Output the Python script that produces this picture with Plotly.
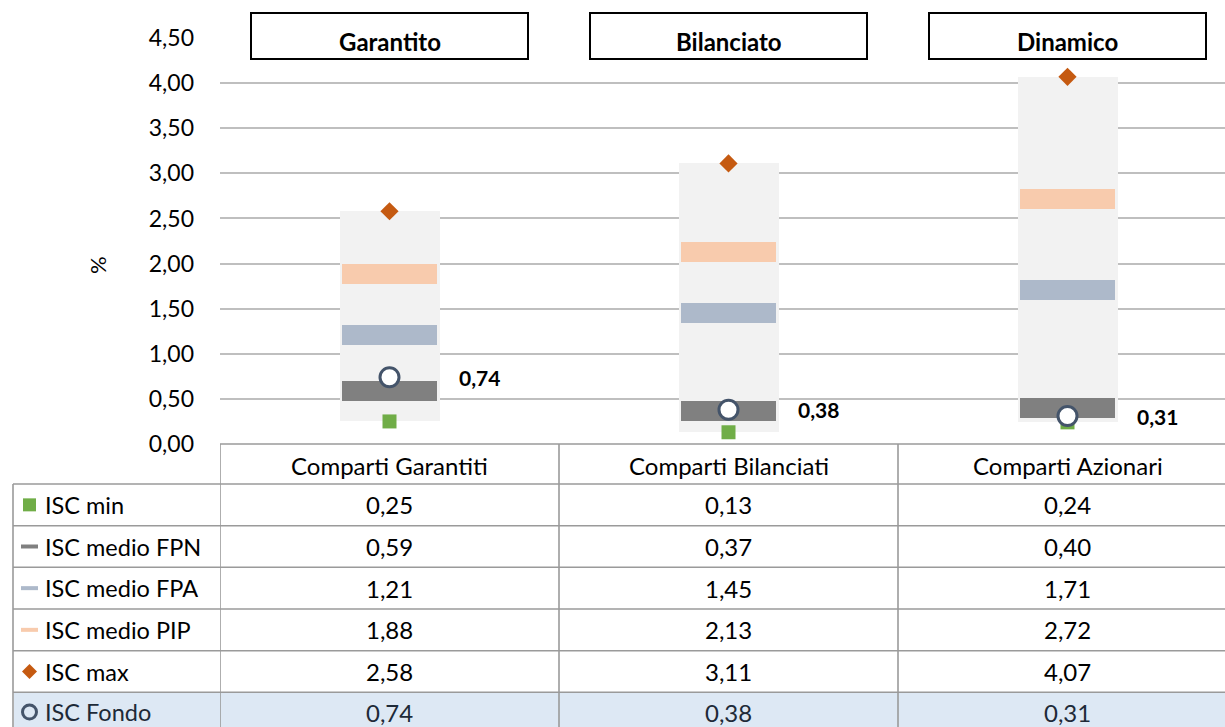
import plotly.graph_objects as go

# ---------------- data ----------------
categories = ["Comparti Garantiti", "Comparti Bilanciati", "Comparti Azionari"]
box_titles = ["Garantito", "Bilanciato", "Dinamico"]
row_labels = ["ISC min", "ISC medio FPN", "ISC medio FPA", "ISC medio PIP", "ISC max", "ISC Fondo"]
isc_min = [0.25, 0.13, 0.24]
isc_fpn = [0.59, 0.37, 0.40]
isc_fpa = [1.21, 1.45, 1.71]
isc_pip = [1.88, 2.13, 2.72]
isc_max = [2.58, 3.11, 4.07]
isc_fondo = [0.74, 0.38, 0.31]
y_ticks = [0, 0.5, 1.0, 1.5, 2.0, 2.5, 3.0, 3.5, 4.0, 4.5]

# ---------------- styling / geometry ----------------
W, H = 1225, 727
PL, PR, PT, PB = 220, 1225, 38, 444
CAT_PX = 339.0
FONT = "Lato"
C_MIN = "#70AD47"
C_FPN = "#808080"
C_FPA = "#ADB9CA"
C_PIP = "#F8CBAD"
C_MAX = "#C55A11"
C_FONDO = "#44546A"
C_RANGE = "#F2F2F2"
C_GRID = "#BFBFBF"
C_TBL = "#9A9A9A"
C_LASTROW = "#DDE8F4"
TXT = "#000000"
TXT_LAST = "#1E2A38"

def fx(x):
    return (x - PL) / (PR - PL)

def fy(y):
    return (PB - y) / (PB - PT)

fmt = lambda v: f"{v:.2f}".replace(".", ",")

xs = list(range(len(categories)))
band_h = 0.22  # thickness of the mean bands (in axis units)

fig = go.Figure()

# range box (min..max)
fig.add_trace(go.Bar(
    x=xs, base=isc_min, y=[mx - mn for mx, mn in zip(isc_max, isc_min)],
    width=0.295, marker=dict(color=C_RANGE, line=dict(width=0)),
    hoverinfo="skip", showlegend=False))

# min markers
fig.add_trace(go.Scatter(
    x=xs, y=isc_min, mode="markers",
    marker=dict(symbol="square", size=14, color=C_MIN, line=dict(width=0)),
    showlegend=False, name="ISC min"))

# mean bands
for vals, col, nm in [(isc_fpn, C_FPN, "ISC medio FPN"),
                      (isc_fpa, C_FPA, "ISC medio FPA"),
                      (isc_pip, C_PIP, "ISC medio PIP")]:
    fig.add_trace(go.Bar(
        x=xs, base=[v - band_h / 2 for v in vals], y=[band_h] * len(vals),
        width=0.28, marker=dict(color=col, line=dict(width=0)),
        showlegend=False, name=nm))

# max markers
fig.add_trace(go.Scatter(
    x=xs, y=isc_max, mode="markers",
    marker=dict(symbol="diamond", size=14, color=C_MAX, line=dict(width=0)),
    showlegend=False, name="ISC max"))

# fondo markers
fig.add_trace(go.Scatter(
    x=xs, y=isc_fondo, mode="markers",
    marker=dict(symbol="circle", size=19, color="white",
                line=dict(width=3, color=C_FONDO)),
    showlegend=False, name="ISC Fondo"))

shapes = []
annotations = []

def ann(**kw):
    kw.setdefault("showarrow", False)
    kw.setdefault("xanchor", "center")
    kw.setdefault("yanchor", "middle")
    annotations.append(kw)

# fondo value labels
for i, v in enumerate(isc_fondo):
    ann(x=i, y=v, xref="x", yref="y", xshift=90, text=f"<b>{fmt(v)}</b>",
        font=dict(family=FONT, size=21, color=TXT))

# header boxes
half = 277 / CAT_PX / 2
for i, t in enumerate(box_titles):
    shapes.append(dict(type="rect", xref="x", yref="paper",
                       x0=i - half, x1=i + half, y0=fy(59), y1=fy(13),
                       line=dict(color="#000000", width=2), fillcolor="white",
                       layer="above"))
    ann(x=i, y=fy(41), xref="x", yref="paper", text=f"<b>{t}</b>",
        font=dict(family=FONT, size=24, color=TXT))

# ---------------- table ----------------
row_edges = [484, 525.7, 567.3, 609, 650.7, 692.3, 740]
row_centers = [(row_edges[k] + row_edges[k + 1]) / 2 for k in range(6)]
row_centers[-1] = 712

# last row fill
shapes.append(dict(type="rect", xref="paper", yref="paper",
                   x0=fx(14), x1=fx(1240), y0=fy(740), y1=fy(693),
                   line=dict(width=0), fillcolor=C_LASTROW, layer="below"))

tl = dict(color=C_TBL, width=1.6)
# horizontal lines
shapes.append(dict(type="line", xref="paper", yref="paper",
                   x0=fx(220), x1=fx(1240), y0=fy(444), y1=fy(444), line=tl))
for ye in row_edges[:-1]:
    shapes.append(dict(type="line", xref="paper", yref="paper",
                       x0=fx(13), x1=fx(1240), y0=fy(ye), y1=fy(ye), line=tl))
# vertical lines
shapes.append(dict(type="line", xref="paper", yref="paper",
                   x0=fx(13), x1=fx(13), y0=fy(484), y1=fy(740), line=tl))
for i in xs:
    shapes.append(dict(type="line", xref="x", yref="paper",
                       x0=i - 0.5, x1=i - 0.5, y0=fy(444), y1=fy(740), line=tl))

# header row
for i, c in enumerate(categories):
    ann(x=i, y=fy(465), xref="x", yref="paper", text=c,
        font=dict(family=FONT, size=24, color=TXT))

# value rows
table_rows = [isc_min, isc_fpn, isc_fpa, isc_pip, isc_max, isc_fondo]
for k, (lab, vals) in enumerate(zip(row_labels, table_rows)):
    col = TXT_LAST if k == 5 else TXT
    ann(x=fx(43), y=fy(row_centers[k]), xref="paper", yref="paper",
        text=lab, xanchor="left", font=dict(family=FONT, size=23.5, color=col))
    for i, v in enumerate(vals):
        ann(x=i, y=fy(row_centers[k]), xref="x", yref="paper", text=fmt(v),
            font=dict(family=FONT, size=24, color=col))

# legend glyphs
cx = 29.5
shapes.append(dict(type="rect", xref="paper", yref="paper",
                   x0=fx(cx - 6.5), x1=fx(cx + 6.5),
                   y0=fy(row_centers[0] + 6.5), y1=fy(row_centers[0] - 6.5),
                   line=dict(width=0), fillcolor=C_MIN))
for k, col in [(1, C_FPN), (2, C_FPA), (3, C_PIP)]:
    shapes.append(dict(type="rect", xref="paper", yref="paper",
                       x0=fx(21), x1=fx(38),
                       y0=fy(row_centers[k] + 2), y1=fy(row_centers[k] - 2),
                       line=dict(width=0), fillcolor=col))
yc = row_centers[4]
shapes.append(dict(type="path", xref="paper", yref="paper",
                   path=f"M {fx(cx-7.5)},{fy(yc)} L {fx(cx)},{fy(yc-7.5)} "
                        f"L {fx(cx+7.5)},{fy(yc)} L {fx(cx)},{fy(yc+7.5)} Z",
                   line=dict(width=0), fillcolor=C_MAX))
yc = row_centers[5]
shapes.append(dict(type="circle", xref="paper", yref="paper",
                   x0=fx(cx - 7), x1=fx(cx + 7), y0=fy(yc + 7), y1=fy(yc - 7),
                   line=dict(width=3, color=C_FONDO), fillcolor="rgba(0,0,0,0)"))

# y-axis title
ann(x=fx(97), y=fy(265), xref="paper", yref="paper", text="%", textangle=-90,
    font=dict(family=FONT, size=22, color=TXT))

fig.update_layout(
    width=W, height=H,
    margin=dict(l=PL, r=W - PR, t=PT, b=H - PB, pad=0),
    paper_bgcolor="white", plot_bgcolor="white",
    barmode="overlay", bargap=0,
    separators=",.",
    showlegend=False,
    shapes=shapes, annotations=annotations,
    font=dict(family=FONT, size=22, color=TXT),
    xaxis=dict(range=[-0.5, -0.5 + (PR - PL) / CAT_PX], showticklabels=False,
               showgrid=False, zeroline=False, showline=False, fixedrange=True),
    yaxis=dict(range=[0, 4.5], tickvals=y_ticks, tickformat=".2f",
               showgrid=True, gridcolor=C_GRID, gridwidth=1.5,
               zeroline=False, showline=False, ticks="",
               ticklabelstandoff=25,
               tickfont=dict(family=FONT, size=23, color=TXT), fixedrange=True),
)

fig.write_html("out.html", config={"displayModeBar": False},
               post_script="document.body.style.margin='0';")
